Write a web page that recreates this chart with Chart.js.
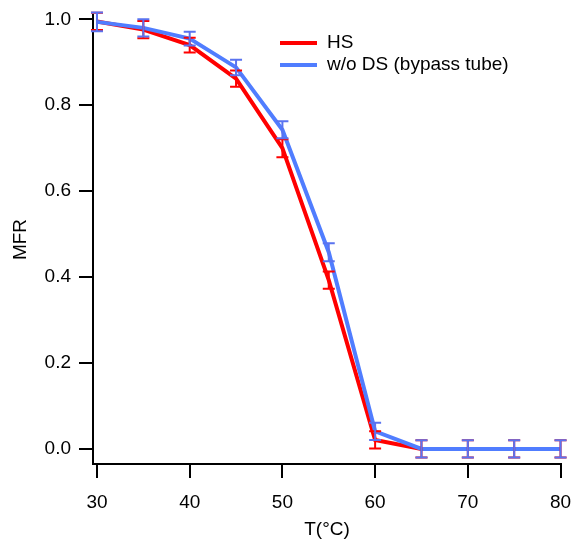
<!DOCTYPE html>
<html>
<head>
<meta charset="utf-8">
<script src="https://cdn.jsdelivr.net/npm/chart.js@4/dist/chart.umd.min.js"></script>
<style>
  html, body { margin: 0; padding: 0; background: #fff; }
  #wrap { width: 572px; height: 541px; }
</style>
</head>
<body>
<div id="wrap"><canvas id="mfrChart" width="572" height="541"></canvas></div>
<script>
// temperatures (°C)
const temps = [30, 35, 40, 45, 50, 55, 60, 65, 70, 75, 80];

// HS series + error
const hsValues = [0.995, 0.976, 0.940, 0.862, 0.700, 0.393, 0.021, 0.0, 0.0, 0.0, 0.0];
const hsErrors = [0.020, 0.020, 0.017, 0.019, 0.021, 0.020, 0.020, 0.020, 0.020, 0.020, 0.020];

// w/o DS (bypass tube) series + error
const dsValues = [0.994, 0.980, 0.955, 0.888, 0.743, 0.458, 0.041, 0.0, 0.0, 0.0, 0.0];
const dsErrors = [0.022, 0.020, 0.016, 0.018, 0.020, 0.021, 0.020, 0.020, 0.020, 0.020, 0.020];

const xTicks = [30, 40, 50, 60, 70, 80];
const yTicks = [0.0, 0.2, 0.4, 0.6, 0.8, 1.0];

const seriesNames = ['HS', 'w/o DS (bypass tube)'];

const RED = 'rgb(255, 0, 0)';
const BLUE = 'rgb(80, 125, 255)';
const FONT = 'Liberation Sans, Arial, Helvetica, sans-serif';

// draw vertical error bars with caps using the chart scales
const errorBarPlugin = {
    id: 'errorBars',
    afterDatasetsDraw(chart) {
        const ctx = chart.ctx;
        const xScale = chart.scales.x;
        const yScale = chart.scales.y;
        // red first, blue on top
        [1, 0].forEach(idx => {
            const ds = chart.data.datasets[idx];
            ctx.save();
            ctx.strokeStyle = ds.errorColor;
            ctx.lineWidth = 2;
            ds.data.forEach((pt, i) => {
                const err = ds.errors[i];
                const x = xScale.getPixelForValue(pt.x);
                const yTop = yScale.getPixelForValue(pt.y + err);
                const yBot = yScale.getPixelForValue(pt.y - err);
                ctx.beginPath();
                ctx.moveTo(x, yTop);
                ctx.lineTo(x, yBot);
                ctx.moveTo(x - 6, yTop);
                ctx.lineTo(x + 6, yTop);
                ctx.moveTo(x - 6, yBot);
                ctx.lineTo(x + 6, yBot);
                ctx.stroke();
            });
            ctx.restore();
        });
    }
};

// simple legend inside the plot area
const legendPlugin = {
    id: 'innerLegend',
    afterDraw(chart) {
        const ctx = chart.ctx;
        const colors = [RED, BLUE];
        ctx.save();
        ctx.font = '19px ' + FONT;
        ctx.textBaseline = 'middle';
        ctx.fillStyle = '#000';
        seriesNames.forEach((name, i) => {
            const y = 43 + i * 22;
            ctx.strokeStyle = colors[i];
            ctx.lineWidth = 4;
            ctx.beginPath();
            ctx.moveTo(280, y);
            ctx.lineTo(317, y);
            ctx.stroke();
            ctx.fillText(name, 327, y);
        });
        ctx.restore();
    }
};

function makePoints(values) {
    return temps.map((t, i) => ({ x: t, y: values[i] }));
}

const ctx = document.getElementById('mfrChart').getContext('2d');
const chart = new Chart(ctx, {
    type: 'line',
    data: {
        datasets: [
            {
                label: seriesNames[1],
                data: makePoints(dsValues),
                errors: dsErrors,
                errorColor: 'rgb(90, 115, 240)',
                borderColor: BLUE,
                borderWidth: 4,
                pointRadius: 0,
                tension: 0,
                fill: false
            },
            {
                label: seriesNames[0],
                data: makePoints(hsValues),
                errors: hsErrors,
                errorColor: RED,
                borderColor: RED,
                borderWidth: 4,
                pointRadius: 0,
                tension: 0,
                fill: false
            }
        ]
    },
    options: {
        responsive: false,
        animation: false,
        layout: { padding: { left: 0, top: 15, right: 11, bottom: 0 } },
        plugins: {
            legend: { display: false },
            tooltip: { enabled: false }
        },
        scales: {
            x: {
                type: 'linear',
                min: 29.57,
                max: 80.05,
                afterBuildTicks: scale => { scale.ticks = xTicks.map(v => ({ value: v })); },
                afterFit: scale => {
                    scale.height = 77;
                    scale.paddingLeft = 0;
                    scale.paddingRight = 0;
                },
                border: { display: true, color: '#000', width: 2 },
                grid: { drawOnChartArea: false, drawTicks: true, tickLength: 14, color: '#000', lineWidth: 2 },
                ticks: { color: '#000', font: { family: FONT, size: 19 }, padding: 13, maxRotation: 0 },
                title: { display: true, text: 'T(°C)', color: '#000', font: { family: FONT, size: 19 }, padding: { top: 0, bottom: 0 } }
            },
            y: {
                type: 'linear',
                min: -0.035,
                max: 1.01,
                afterBuildTicks: scale => { scale.ticks = yTicks.map(v => ({ value: v })); },
                afterFit: scale => {
                    scale.width = 93;
                    scale.paddingTop = 0;
                    scale.paddingBottom = 0;
                },
                border: { display: true, color: '#000', width: 2 },
                grid: { drawOnChartArea: false, drawTicks: true, tickLength: 14, color: '#000', lineWidth: 2 },
                ticks: {
                    color: '#000',
                    font: { family: FONT, size: 19 },
                    padding: 8,
                    callback: v => v.toFixed(1)
                },
                title: { display: true, text: 'MFR', color: '#000', font: { family: FONT, size: 19 }, padding: { top: 9, bottom: 0 } }
            }
        }
    },
    plugins: [errorBarPlugin, legendPlugin]
});
</script>
</body>
</html>
